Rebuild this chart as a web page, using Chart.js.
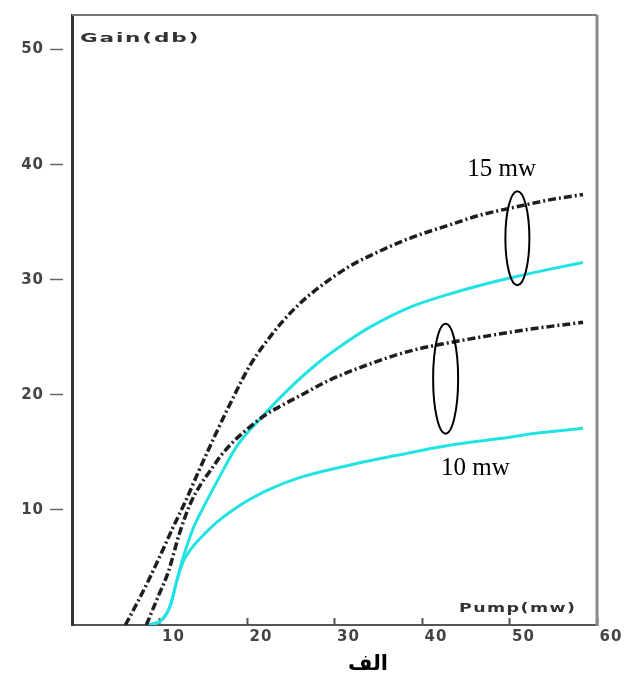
<!DOCTYPE html>
<html>
<head>
<meta charset="utf-8">
<script src="https://cdn.jsdelivr.net/npm/chart.js@4.4.1/dist/chart.umd.min.js"></script>
<style>
  html, body { margin: 0; padding: 0; background: #fff; }
  #wrap { width: 634px; height: 681px; position: relative; }
</style>
</head>
<body>
<div id="wrap"><canvas id="gainChart"></canvas></div>
<script>
// 15 mw, dash-dot (black)
const pumpDash15 = [6.1, 7.5, 8.7, 10, 11.5, 13, 14.5, 16.3, 17.8, 20.3, 22, 24.1, 26, 28, 31.8, 34.1, 38.6, 42.9, 46.6, 51.2, 55, 58.4];
const gainDash15 = [0, 2.0, 3.8, 5.9, 8.4, 10.8, 13.4, 16.4, 18.8, 22.5, 24.4, 26.4, 27.9, 29.2, 31.2, 32.1, 33.6, 34.7, 35.6, 36.4, 37.0, 37.4];

// 10 mw, dash-dot (black)
const pumpDash10 = [8.5, 9.8, 11, 12.3, 13.5, 14.7, 15.8, 17, 18.4, 20, 22, 23.8, 26, 29.5, 34.1, 38.6, 42.9, 47.4, 52.3, 58.4];
const gainDash10 = [0, 2.4, 4.6, 8.0, 10.5, 12.2, 13.4, 14.7, 15.9, 17.0, 18.2, 19.0, 19.9, 21.3, 22.7, 23.8, 24.5, 25.1, 25.7, 26.3];

// 15 mw, solid (cyan)
const pumpCyan15 = [8.6, 10.2, 11.2, 12, 12.6, 13.8, 15, 16.6, 18.9, 21.5, 24.1, 28, 31.8, 34.1, 38.6, 42.9, 46.6, 50.9, 54.5, 58.4];
const gainCyan15 = [0, 0.4, 1.6, 3.9, 5.6, 8.3, 10.2, 12.5, 15.6, 17.9, 20.0, 22.7, 24.8, 25.9, 27.6, 28.7, 29.5, 30.3, 30.9, 31.5];

// 10 mw, solid (cyan)
const pumpCyan10 = [8.6, 10.2, 11.2, 12, 12.7, 13.6, 14.6, 16.5, 18.4, 20.3, 22.3, 26, 31.8, 37.5, 43, 48.9, 53.5, 58.4];
const gainCyan10 = [0, 0.4, 1.6, 3.9, 5.5, 6.6, 7.5, 8.9, 10.0, 10.9, 11.7, 12.8, 13.9, 14.8, 15.6, 16.2, 16.7, 17.1];

const xTicks = [10, 20, 30, 40, 50, 60];
const yTicks = [10, 20, 30, 40, 50];

const toPoints = (xs, ys) => xs.map((v, i) => ({ x: v, y: ys[i] }));

const tickFont = { family: '"DejaVu Sans"', size: 15, weight: 'bold' };

const notesPlugin = {
    id: 'notes',
    beforeDraw(chart) {
        chart.ctx.letterSpacing = '1px';
    },
    afterDraw(chart) {
        const { ctx, chartArea: a, scales: { x, y } } = chart;
        ctx.save();
        ctx.letterSpacing = '0px';

        // top + right frame
        ctx.strokeStyle = '#777';
        ctx.lineWidth = 2;
        ctx.beginPath();
        ctx.moveTo(a.left, a.top);
        ctx.lineTo(a.right, a.top);
        ctx.stroke();
        ctx.strokeStyle = '#8a8a8a';
        ctx.lineWidth = 3;
        ctx.beginPath();
        ctx.moveTo(a.right, a.top);
        ctx.lineTo(a.right, a.bottom + 1);
        ctx.stroke();

        // axis titles, wide blocky look
        ctx.fillStyle = '#333';
        ctx.font = 'bold 12px "DejaVu Sans"';
        ctx.textBaseline = 'middle';
        ctx.textAlign = 'left';
        ctx.letterSpacing = '1px';
        ctx.save();
        ctx.translate(a.left + 8, 39);
        ctx.scale(1.8, 1);
        ctx.fillText('Gain(db)', 0, 0);
        ctx.restore();
        ctx.save();
        ctx.translate(a.right - 138, 609);
        ctx.scale(1.45, 1);
        ctx.fillText('Pump(mw)', 0, 0);
        ctx.restore();
        ctx.letterSpacing = '0px';

        // ovals around the curve pairs
        ctx.strokeStyle = '#000';
        ctx.lineWidth = 2;
        ctx.beginPath();
        ctx.ellipse(x.getPixelForValue(50.9), y.getPixelForValue(33.6), 12, 47, 0, 0, Math.PI * 2);
        ctx.stroke();
        ctx.beginPath();
        ctx.ellipse(x.getPixelForValue(42.7), y.getPixelForValue(21.4), 12.5, 55, 0, 0, Math.PI * 2);
        ctx.stroke();

        // power labels
        ctx.fillStyle = '#000';
        ctx.font = '25px "Liberation Serif"';
        ctx.textAlign = 'center';
        ctx.fillText('15 mw', x.getPixelForValue(49.1), y.getPixelForValue(39.6));
        ctx.fillText('10 mw', x.getPixelForValue(46.1), y.getPixelForValue(13.6));

        // caption
        ctx.font = 'bold 21px "DejaVu Sans"';
        ctx.fillText('الف', 368, 665);
        ctx.restore();
    }
};

new Chart(document.getElementById('gainChart'), {
    type: 'line',
    data: {
        datasets: [
            {
                data: toPoints(pumpDash15, gainDash15),
                borderColor: '#1e1e1e',
                borderWidth: 3.5,
                borderDash: [8, 3, 2, 3],
            },
            {
                data: toPoints(pumpDash10, gainDash10),
                borderColor: '#1e1e1e',
                borderWidth: 3.5,
                borderDash: [8, 3, 2, 3],
            },
            {
                data: toPoints(pumpCyan15, gainCyan15),
                borderColor: '#22e3e3',
                borderWidth: 3,
            },
            {
                data: toPoints(pumpCyan10, gainCyan10),
                borderColor: '#22e3e3',
                borderWidth: 3,
            }
        ]
    },
    options: {
        responsive: true,
        maintainAspectRatio: false,
        animation: false,
        cubicInterpolationMode: 'monotone',
        elements: { point: { radius: 0 } },
        layout: { padding: { top: 7, right: 37, bottom: 30, left: 0 } },
        plugins: {
            legend: { display: false },
            tooltip: { enabled: false }
        },
        scales: {
            x: {
                type: 'linear',
                min: 0,
                max: 60,
                afterBuildTicks: s => { s.ticks = xTicks.map(v => ({ value: v })); },
                afterFit: s => { s.height = 26; },
                border: { color: '#555', width: 2 },
                grid: {
                    drawOnChartArea: false,
                    tickLength: -7,
                    tickColor: '#555',
                    tickWidth: 2
                },
                ticks: {
                    color: '#444',
                    font: tickFont,
                    padding: 10,
                    labelOffset: 14,
                    maxRotation: 0
                }
            },
            y: {
                min: 0,
                max: 53,
                afterBuildTicks: s => { s.ticks = yTicks.map(v => ({ value: v })); },
                afterFit: s => { s.width = 72; },
                border: { color: '#333', width: 3 },
                grid: {
                    drawOnChartArea: false,
                    tickLength: 22,
                    tickColor: '#666',
                    tickWidth: 1.5,
                    tickBorderDash: [13, 20]
                },
                ticks: {
                    color: '#444',
                    font: tickFont,
                    padding: 6
                }
            }
        }
    },
    plugins: [notesPlugin]
});
</script>
</body>
</html>
